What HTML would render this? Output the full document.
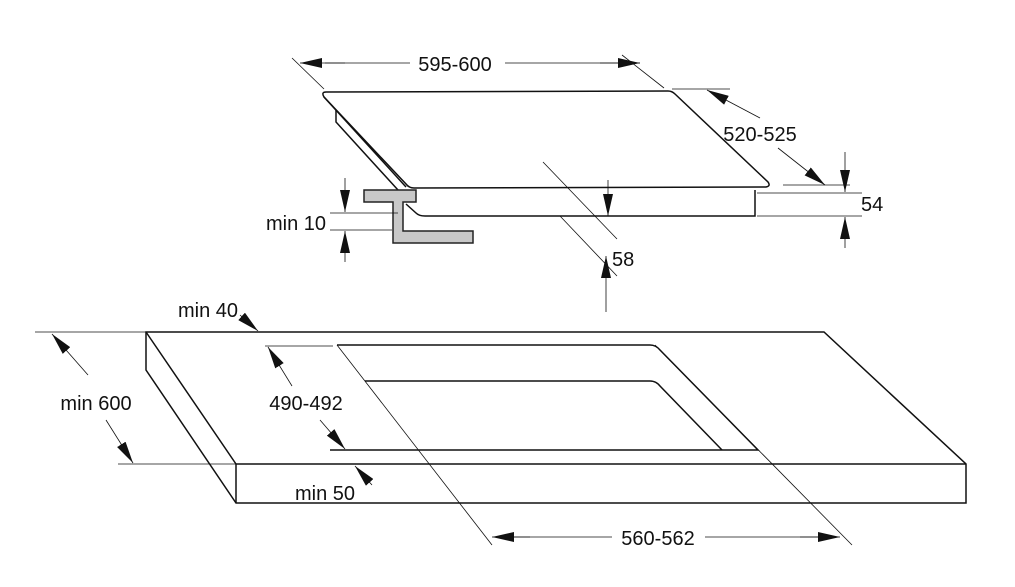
<!DOCTYPE html>
<html><head><meta charset="utf-8"><style>
html,body{margin:0;padding:0;background:#fff;}
svg{display:block}
text{font-family:"Liberation Sans",sans-serif;font-size:20px;fill:#111;}
</style></head><body>
<svg width="1015" height="587" viewBox="0 0 1015 587" xmlns="http://www.w3.org/2000/svg">
<defs>
<marker id="a" viewBox="0 0 22 10" refX="22" refY="5" markerWidth="22" markerHeight="10" markerUnits="userSpaceOnUse" orient="auto">
<path d="M0,0 L22,5 L0,10 Z" fill="#111"/></marker>
</defs>
<g fill="none" stroke="#111" stroke-width="1.5">
<path d="M326,92 L668,91 Q672,91 675,94 L768,182 Q771,186 766,187 L414,188 Q409,188 406,184 L324,97 Q321,92 326,92 Z"/>
<path d="M324,97 L406,187"/>
<path d="M336,110 L336,122 L398,190"/>
<path d="M406,204 L416,213 Q419,216 425,216 L755,216 L755,190"/>
</g>
<path d="M364,190 L416,190 L416,202 L403,202 L403,231 L473,231 L473,243 L393,243 L393,202 L364,202 Z" fill="#c8c8c8" stroke="#222" stroke-width="1.5"/>
<g fill="none" stroke="#111" stroke-width="0.8">
<line x1="292" y1="58" x2="324" y2="89"/>
<line x1="622" y1="55" x2="664" y2="88"/>
<line x1="345" y1="63" x2="300" y2="63" marker-end="url(#a)"/>
<line x1="325" y1="63" x2="410" y2="63"/>
<line x1="505" y1="63" x2="640" y2="63"/>
<line x1="600" y1="63" x2="640" y2="63" marker-end="url(#a)"/>
<line x1="672" y1="89" x2="730" y2="89"/>
<line x1="760" y1="118" x2="707" y2="90" marker-end="url(#a)"/>
<line x1="778" y1="148" x2="825" y2="185" marker-end="url(#a)"/>
<line x1="783" y1="185" x2="850" y2="185"/>
<line x1="757" y1="193" x2="862" y2="193"/>
<line x1="757" y1="216" x2="862" y2="216"/>
<line x1="845" y1="152" x2="845" y2="192" marker-end="url(#a)"/>
<line x1="845" y1="248" x2="845" y2="217" marker-end="url(#a)"/>
<line x1="330" y1="213" x2="398" y2="213"/>
<line x1="330" y1="230" x2="392" y2="230"/>
<line x1="345" y1="178" x2="345" y2="212" marker-end="url(#a)"/>
<line x1="345" y1="262" x2="345" y2="231" marker-end="url(#a)"/>
<line x1="543" y1="162" x2="617" y2="239"/>
<line x1="560" y1="216" x2="617" y2="276"/>
<line x1="608" y1="180" x2="608" y2="216" marker-end="url(#a)"/>
<line x1="606" y1="312" x2="606" y2="256" marker-end="url(#a)"/>
</g>
<g fill="none" stroke="#111" stroke-width="1.5">
<path d="M146,332 L824,332 L966,464 L966,503 L236,503 L146,370 Z"/>
<path d="M146,332 L236,464 L966,464"/>
<line x1="236" y1="464" x2="236" y2="503"/>
<path d="M337,345 L650,345 Q656,345 660,350 L758,450 L330,450"/>
<path d="M365,381 L650,381 Q656,381 660,386 L722,450"/>
</g>
<g fill="none" stroke="#111" stroke-width="0.8">
<line x1="337" y1="345" x2="492" y2="545"/>
<line x1="655" y1="345" x2="852" y2="545"/>
<line x1="240" y1="315" x2="258" y2="331" marker-end="url(#a)"/>
<line x1="35" y1="332" x2="146" y2="332"/>
<line x1="88" y1="375" x2="52" y2="334" marker-end="url(#a)"/>
<line x1="106" y1="420" x2="133" y2="463" marker-end="url(#a)"/>
<line x1="118" y1="464" x2="236" y2="464"/>
<line x1="265" y1="346" x2="333" y2="346"/>
<line x1="292" y1="386" x2="268" y2="347" marker-end="url(#a)"/>
<line x1="320" y1="420" x2="345" y2="449" marker-end="url(#a)"/>
<line x1="372" y1="485" x2="355" y2="466" marker-end="url(#a)"/>
<line x1="530" y1="537" x2="492" y2="537" marker-end="url(#a)"/>
<line x1="510" y1="537" x2="612" y2="537"/>
<line x1="705" y1="537" x2="838" y2="537"/>
<line x1="800" y1="537" x2="840" y2="537" marker-end="url(#a)"/>
</g>
<g>
<text x="455" y="71" text-anchor="middle" font-size="21">595-600</text>
<text x="760" y="141" text-anchor="middle">520-525</text>
<text x="861" y="211">54</text>
<text x="326" y="230" text-anchor="end">min 10</text>
<text x="612" y="266">58</text>
<text x="208" y="317" text-anchor="middle">min 40</text>
<text x="96" y="410" text-anchor="middle">min 600</text>
<text x="306" y="410" text-anchor="middle">490-492</text>
<text x="325" y="500" text-anchor="middle">min 50</text>
<text x="658" y="545" text-anchor="middle">560-562</text>
</g>
</svg>
</body></html>
